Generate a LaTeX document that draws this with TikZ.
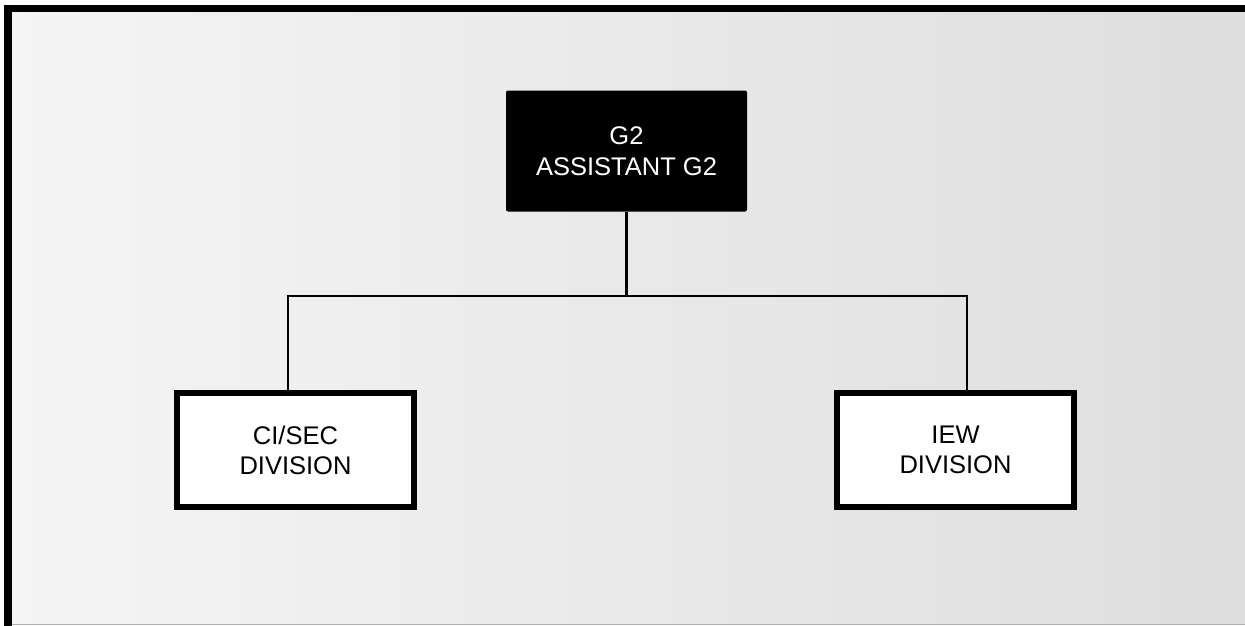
\documentclass[tikz,border=0pt]{standalone}
\usepackage{fontspec}
\setmainfont{Liberation Sans}
\begin{document}
\begin{tikzpicture}[x=1pt,y=-1pt,
  topbox/.style={fill=black,text=white,rounded corners=2pt,minimum width=241pt,minimum height=121pt,inner sep=0pt,align=center,font=\fontsize{25.5}{31}\selectfont},
  divbox/.style={draw=black,fill=white,line width=6pt,minimum width=237pt,minimum height=114pt,inner sep=0pt,align=center,font=\fontsize{25.5}{30}\selectfont},
  link/.style={line width=2.4pt,draw=black}]
\useasboundingbox (0,0) rectangle (1245,626);
\fill[white] (0,0) rectangle (1245,626);
\shade[left color=gray!8,right color=gray!26] (12,12) rectangle (1245,624);
\draw[gray!60,line width=1pt] (12,624) -- (1245,624);
\fill[black] (4,5) rectangle (1245,12);
\fill[black] (4,5) rectangle (12,626);
\node[topbox] (top) at (626.5,151) {G2\\ASSISTANT G2};
\node[divbox] (left) at (295.5,450) {CI/SEC\\DIVISION};
\node[divbox] (right) at (955.5,450) {IEW\\DIVISION};
\coordinate (bus) at (626.5,296);
\coordinate (jl) at (288,296);
\coordinate (jr) at (967,296);
\draw[link] (top.south) -- (bus);
\draw[link] (left.north -| jl) -- (jl) -- (jr) -- (right.north -| jr);
\end{tikzpicture}
\end{document}
